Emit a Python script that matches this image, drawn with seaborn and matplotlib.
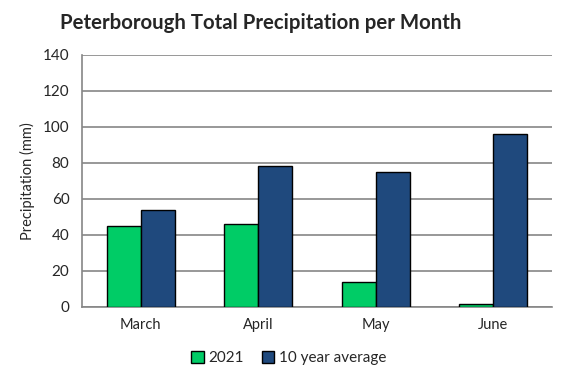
import matplotlib
matplotlib.use("Agg")
import matplotlib.pyplot as plt
import seaborn as sns
import pandas as pd

months = ["March", "April", "May", "June"]
values_2021 = [45, 46, 14, 1.5]
values_avg = [54, 78.5, 75, 96]
series_names = ["2021", "10 year average"]

df = pd.DataFrame({
    "Month": months * 2,
    "Value": values_2021 + values_avg,
    "Series": [series_names[0]] * 4 + [series_names[1]] * 4,
})

sns.set_style("white")
plt.rcParams["font.family"] = ["Lato", "DejaVu Sans"]

fig = plt.figure(figsize=(5.67, 3.78), dpi=100)
ax = fig.add_axes([82/567, 1 - 307/378, (552-82)/567, (307-55)/378])

palette = {"2021": "#00CC66", "10 year average": "#1F497D"}
sns.barplot(data=df, x="Month", y="Value", hue="Series", palette=palette,
            width=0.58, edgecolor="black", linewidth=1.0, ax=ax, zorder=3,
            saturation=1)

ax.set_xlim(-0.5, 3.5)
ax.set_ylim(0, 140)
ax.set_yticks(range(0, 141, 20))
ax.yaxis.grid(True, color="#868686", linewidth=1.2, zorder=0)
ax.set_axisbelow(True)
for s in ["top", "right"]:
    ax.spines[s].set_visible(False)
for s in ["left", "bottom"]:
    ax.spines[s].set_color("#868686")
    ax.spines[s].set_linewidth(1.2)

ax.set_xticks([0, 1, 2, 3])
ax.set_xticklabels(months, fontsize=10.5)
ax.tick_params(axis="x", length=0, pad=8)
ax.set_xticks([-0.5, 0.5, 1.5, 2.5, 3.5], minor=True)
ax.tick_params(axis="x", which="minor", length=5, color="#868686", width=1.2)
ax.tick_params(axis="y", length=5, color="#868686", width=1.2, labelsize=11, pad=4)
ax.set_xlabel("")
ax.set_ylabel("Precipitation (mm)", fontsize=10.5, labelpad=6)

fig.suptitle("Peterborough Total Precipitation per Month", x=0.46, y=0.965,
             fontsize=14.7, fontweight="bold")

leg = ax.legend(loc="upper center", bbox_to_anchor=(0.44, -0.12), ncol=2,
                frameon=False, fontsize=11, handlelength=0.8, handleheight=0.8,
                handletextpad=0.3, columnspacing=1.2)

fig.savefig("out.png", dpi=100)
